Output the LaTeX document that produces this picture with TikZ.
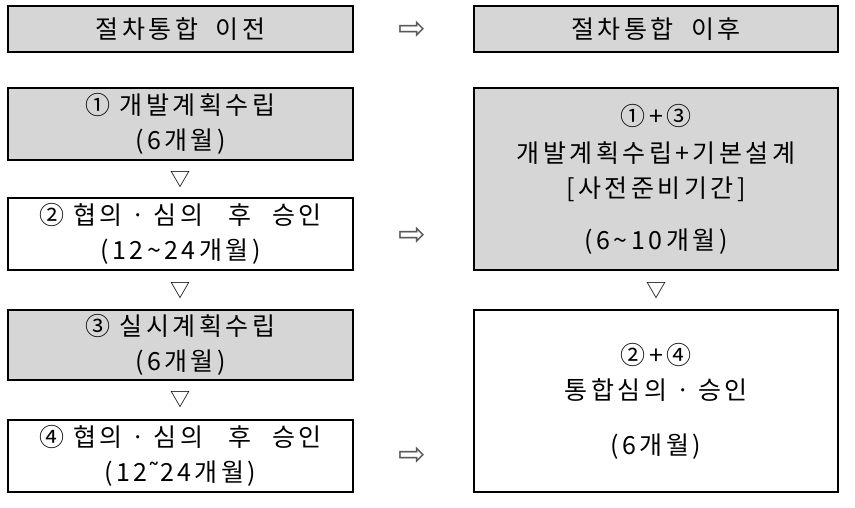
\documentclass[tikz,border=0pt]{standalone}
\usepackage{fontspec}
\setmainfont{Noto Sans CJK KR}[LetterSpace=14]
\newfontfamily\symfont{DejaVu Sans}
\definecolor{boxgray}{RGB}{214,214,214}
\tikzset{
	graybox/.style={draw=black,line width=1.2pt,fill=boxgray,align=center,
			font=\fontsize{25}{35}\selectfont},
	whitebox/.style={graybox,fill=white},
	downmark/.style={inner sep=0pt,font=\fontsize{20}{20}\selectfont},
	rightmark/.style={inner sep=0pt,text=gray!70!black,font=\symfont\fontsize{33}{33}\selectfont}
}
\begin{document}
\begin{tikzpicture}[x=1pt,y=-1pt]
	\useasboundingbox (0,0) rectangle (855,507);

	% headers
	\node[graybox,minimum width=345,minimum height=46] (before) at (180.5,29) {절차통합\hspace{8pt} 이전};
	\node[graybox,minimum width=364,minimum height=46] (after) at (656,29) {절차통합\hspace{8pt} 이후};

	% before: four steps
	\node[graybox,minimum width=345,minimum height=72] (plan) at (180.5,124) {① 개발계획수립\\(6개월)};
	\node[whitebox,minimum width=345,minimum height=72] (consult) at (180.5,234) {② 협의\hspace{4pt}ㆍ\hspace{4pt}심의\hspace{16pt} 후\hspace{12pt} 승인\\(12\textasciitilde24개월)};
	\node[graybox,minimum width=345,minimum height=70] (detail) at (180.5,345) {③ 실시계획수립\\(6개월)};
	\node[whitebox,minimum width=345,minimum height=72] (approve) at (180.5,456) {④ 협의\hspace{4pt}ㆍ\hspace{4pt}심의\hspace{16pt} 후\hspace{12pt} 승인\\(12{\symfont ˜}24개월)};

	% after: two steps
	\node[graybox,minimum width=364,minimum height=182] (prep) at (656,179)
		{①+③\\[2pt]개발계획수립+기본설계\\{[}사전준비기간{]}\\[17pt](6\textasciitilde10개월)};
	\node[whitebox,minimum width=364,minimum height=182] (review) at (656,401)
		{②+④\\통합심의\hspace{4pt}ㆍ\hspace{4pt}승인\\[20pt](6개월)};

	% marks between boxes
	\node[downmark] (d1) at (180.5,180) {▽};
	\node[downmark] (d2) at (180.5,291) {▽};
	\node[downmark] (d3) at (180.5,400) {▽};
	\node[downmark] (d4) at (656,291) {▽};
	\node[rightmark] (r1) at (412,30) {⇨};
	\node[rightmark] (r2) at (412,236) {⇨};
	\node[rightmark] (r3) at (412,456) {⇨};
\end{tikzpicture}
\end{document}
